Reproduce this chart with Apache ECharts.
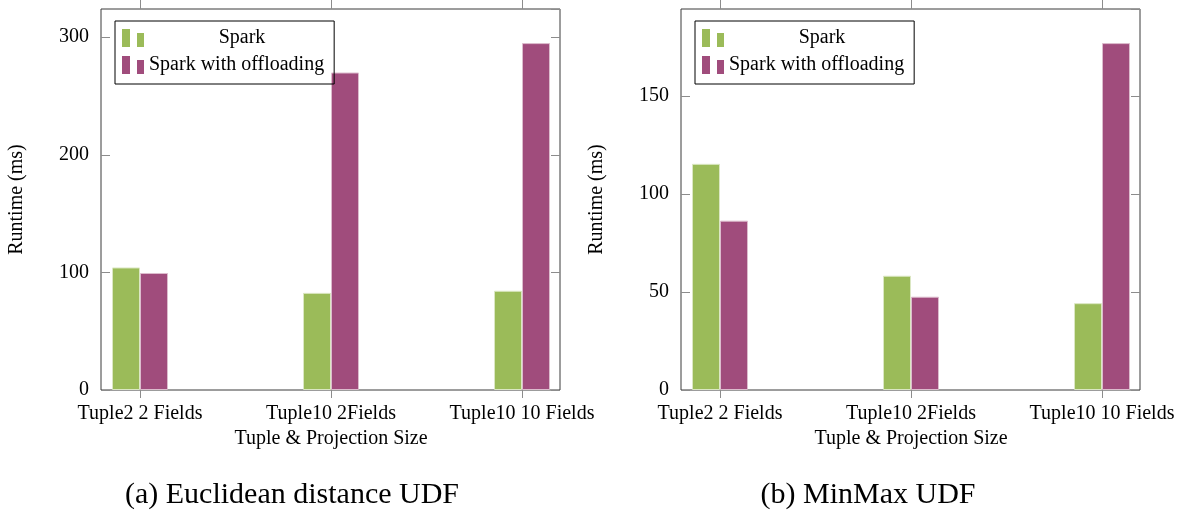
<!DOCTYPE html>
<html>
<head>
<meta charset="utf-8">
<title>Runtime comparison</title>
<script src="https://cdn.jsdelivr.net/npm/echarts@6/dist/echarts.min.js"></script>
<style>
  html, body { margin: 0; padding: 0; background: #fff; }
  #chart { width: 1187px; height: 511px; }
</style>
</head>
<body>
<div id="chart"></div>
<script>
// values
const categories = ["Tuple2 2 Fields", "Tuple10 2Fields", "Tuple10 10 Fields"];
const seriesNames = ["Spark", "Spark with offloading"];

const euclidSpark = [104.2, 82.6, 84.4];
const euclidOffload = [99.5, 270, 295];

const minmaxSpark = [115.4, 58.3, 44.3];
const minmaxOffload = [86.4, 47.6, 177];

const euclidAxis = { max: 324, interval: 100 };
const minmaxAxis = { max: 194.4, interval: 50 };

const panelTitles = ["(a) Euclidean distance UDF", "(b) MinMax UDF"];

const FONT = "'Liberation Serif', 'DejaVu Serif', serif";
const GREEN = "#9bbb59";
const PURPLE = "#a04c7c";
const TICK = "#8c8c8c";

const chart = echarts.init(document.getElementById("chart"));

const panels = [
  { frameLeft: 101, spark: euclidSpark, offload: euclidOffload, axis: euclidAxis, legendLeft: 115, titleX: 292 },
  { frameLeft: 681, spark: minmaxSpark, offload: minmaxOffload, axis: minmaxAxis, legendLeft: 695, titleX: 868 },
];

const grid = [];
const xAxis = [];
const yAxis = [];
const series = [];
const legend = [];
const title = [];

panels.forEach((p, i) => {
  const frameGrid = i * 2;
  const dataGrid = i * 2 + 1;

  // outer frame with the value ticks
  grid.push({
    left: p.frameLeft, top: 9, width: 459, height: 381,
    show: true, borderColor: "#3a3a3a", borderWidth: 1,
    backgroundColor: "transparent",
  });
  // inner grid: category points sit 39px inside the frame
  grid.push({ left: p.frameLeft + 39, top: 9, width: 382, height: 381 });

  xAxis.push({ gridIndex: frameGrid, type: "value", min: 0, max: 1, show: false });
  xAxis.push({
    gridIndex: dataGrid,
    type: "category",
    data: categories,
    boundaryGap: false,
    position: "bottom",
    axisLine: { show: false },
    axisTick: { show: true, length: 8, lineStyle: { color: TICK } },
    axisLabel: { fontFamily: FONT, fontSize: 20, color: "#000", margin: 14 },
    name: "Tuple & Projection Size",
    nameLocation: "middle",
    nameGap: 39,
    nameTextStyle: { fontFamily: FONT, fontSize: 20, color: "#000" },
  });
  xAxis.push({
    gridIndex: dataGrid,
    type: "category",
    data: categories,
    boundaryGap: false,
    position: "top",
    axisLine: { show: false },
    axisTick: { show: true, length: 9, lineStyle: { color: TICK } },
    axisLabel: { show: false },
  });

  const valueAxis = {
    type: "value",
    min: 0,
    max: p.axis.max,
    interval: p.axis.interval,
    splitLine: { show: false },
    axisLine: { show: false },
  };
  yAxis.push(Object.assign({}, valueAxis, {
    gridIndex: frameGrid,
    position: "left",
    axisTick: { show: true, inside: true, length: 9, lineStyle: { color: TICK } },
    axisLabel: { fontFamily: FONT, fontSize: 20, color: "#000", margin: 12, showMaxLabel: false },
    name: "Runtime (ms)",
    nameLocation: "middle",
    nameGap: 74,
    nameTextStyle: { fontFamily: FONT, fontSize: 20, color: "#000" },
  }));
  yAxis.push(Object.assign({}, valueAxis, {
    gridIndex: frameGrid,
    position: "right",
    axisTick: { show: true, inside: true, length: 9, lineStyle: { color: TICK } },
    axisLabel: { show: false },
  }));
  yAxis.push(Object.assign({}, valueAxis, { gridIndex: dataGrid, show: false }));

  const xIdx = i * 3 + 1;
  const yIdx = i * 3 + 2;
  series.push({
    name: seriesNames[0],
    type: "bar",
    xAxisIndex: xIdx,
    yAxisIndex: yIdx,
    data: p.spark,
    barWidth: 28,
    barGap: "0%",
    clip: false,
    itemStyle: { color: GREEN, borderColor: "#dbe7c3", borderWidth: 1 },
  });
  series.push({
    name: seriesNames[1],
    type: "bar",
    xAxisIndex: xIdx,
    yAxisIndex: yIdx,
    data: p.offload,
    barWidth: 28,
    barGap: "0%",
    clip: false,
    itemStyle: { color: PURPLE, borderColor: "#dcbccd", borderWidth: 1 },
  });

  legend.push({
    orient: "vertical",
    left: p.legendLeft,
    top: 21,
    padding: [7, 10, 9, 7],
    itemGap: 7,
    itemWidth: 22,
    itemHeight: 18,
    borderColor: "#000",
    borderWidth: 1,
    borderRadius: 0,
    backgroundColor: "transparent",
    selectedMode: false,
    icon: "path://M0,0H8V18H0Z M15,4H22V18H15Z",
    itemStyle: { borderWidth: 0 },
    data: seriesNames,
    formatter: (name) => (name === seriesNames[0] ? "{c|" : "{l|") + name + "}",
    textStyle: {
      fontFamily: FONT,
      fontSize: 20,
      color: "#000",
      rich: {
        c: { width: 186, align: "center", fontFamily: FONT, fontSize: 20, color: "#000" },
        l: { width: 186, align: "left", fontFamily: FONT, fontSize: 20, color: "#000" },
      },
    },
  });

  title.push({
    text: panelTitles[i],
    left: p.titleX,
    top: 480,
    textAlign: "center",
    padding: 0,
    textStyle: { fontFamily: FONT, fontSize: 30, fontWeight: "normal", color: "#000" },
  });
});

chart.setOption({
  animation: false,
  backgroundColor: "#fff",
  title,
  legend,
  grid,
  xAxis,
  yAxis,
  series,
});
</script>
</body>
</html>
